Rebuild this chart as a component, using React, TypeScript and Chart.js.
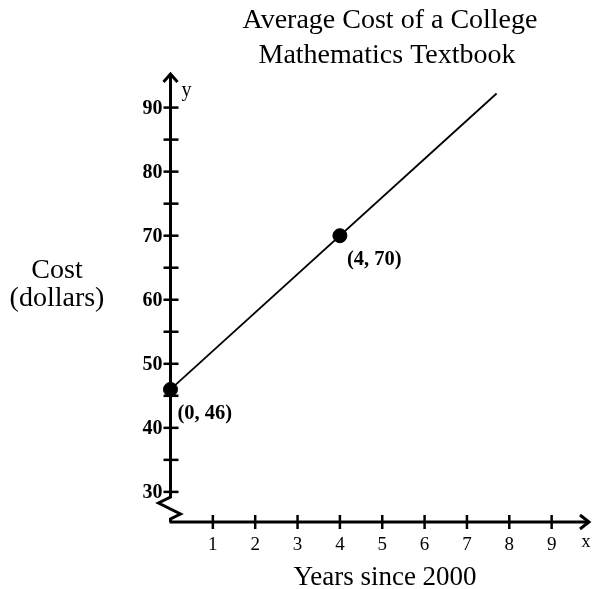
import React, { useEffect, useRef } from "react";
import { Chart, registerables } from "chart.js";

Chart.register(...registerables);

const titleLines = ["Average Cost of a College", "Mathematics Textbook"];
const xAxisTitle = "Years since 2000";
const yAxisTitle = ["Cost", "(dollars)"];
const xTicks = [1, 2, 3, 4, 5, 6, 7, 8, 9];
const yTicks = [30, 35, 40, 45, 50, 55, 60, 65, 70, 75, 80, 85, 90];
const yLabelled = [30, 40, 50, 60, 70, 80, 90];
const lineX = [0, 7.7];
const lineY = [46, 92.2];
const pointX = [0, 4];
const pointY = [46, 70];
const pointLabels = ["(0, 46)", "(4, 70)"];

const SERIF = "'Liberation Serif', 'Times New Roman', serif";

const axesPlugin = {
  id: "mathAxes",
  beforeDatasetsDraw(chart: any) {
    const { ctx, chartArea, scales } = chart;
    const xs = scales.x;
    const ys = scales.y;
    const x0 = xs.getPixelForValue(0);
    const yBottom = chartArea.bottom;
    const yTop = chartArea.top;
    const xRight = chartArea.right - 3;
    ctx.save();
    ctx.strokeStyle = "#000";
    ctx.lineWidth = 3;
    ctx.lineCap = "butt";
    ctx.lineJoin = "miter";
    // y axis with break
    const breakTop = ys.getPixelForValue(29.2);
    ctx.beginPath();
    ctx.moveTo(x0, yTop + 1);
    ctx.lineTo(x0, breakTop);
    ctx.lineTo(x0 - 12, breakTop + 6);
    ctx.lineTo(x0 + 10, breakTop + 17);
    ctx.lineTo(x0, breakTop + 22);
    ctx.lineTo(x0, yBottom);
    ctx.stroke();
    // x axis
    ctx.beginPath();
    ctx.moveTo(x0 - 1, yBottom);
    ctx.lineTo(xRight, yBottom);
    ctx.stroke();
    // arrows
    ctx.beginPath();
    ctx.moveTo(x0 - 7, yTop + 9);
    ctx.lineTo(x0, yTop + 1);
    ctx.lineTo(x0 + 7, yTop + 9);
    ctx.stroke();
    ctx.beginPath();
    ctx.moveTo(xRight - 9, yBottom - 7);
    ctx.lineTo(xRight, yBottom);
    ctx.lineTo(xRight - 9, yBottom + 7);
    ctx.stroke();
    // y ticks
    ctx.lineWidth = 2.5;
    yTicks.forEach((v) => {
      const py = ys.getPixelForValue(v);
      ctx.beginPath();
      ctx.moveTo(x0 - 7, py);
      ctx.lineTo(x0 + 8, py);
      ctx.stroke();
    });
    // x ticks
    xTicks.forEach((v) => {
      const px = xs.getPixelForValue(v);
      ctx.beginPath();
      ctx.moveTo(px, yBottom - 7);
      ctx.lineTo(px, yBottom + 7);
      ctx.stroke();
    });
    // labels
    ctx.fillStyle = "#000";
    ctx.font = `bold 20px ${SERIF}`;
    ctx.textAlign = "right";
    ctx.textBaseline = "middle";
    yLabelled.forEach((v) => {
      ctx.fillText(String(v), x0 - 8, ys.getPixelForValue(v) + 1);
    });
    ctx.font = `19px ${SERIF}`;
    ctx.textAlign = "center";
    xTicks.forEach((v) => {
      ctx.fillText(String(v), xs.getPixelForValue(v), yBottom + 23);
    });
    // axis letters
    ctx.font = `20px ${SERIF}`;
    ctx.textAlign = "center";
    ctx.fillText("y", x0 + 16, yTop + 18);
    ctx.font = `18px ${SERIF}`;
    ctx.fillText("x", xRight - 3, yBottom + 20);
    // titles
    ctx.font = `28px ${SERIF}`;
    ctx.textBaseline = "alphabetic";
    ctx.fillText(titleLines[0], 390, 28);
    ctx.fillText(titleLines[1], 387, 63);
    ctx.font = `27px ${SERIF}`;
    ctx.fillText(xAxisTitle, 385, 585);
    ctx.font = `28px ${SERIF}`;
    ctx.fillText(yAxisTitle[0], 57, 278);
    ctx.fillText(yAxisTitle[1], 57, 306);
    // point labels
    ctx.font = `bold 20.5px ${SERIF}`;
    ctx.textAlign = "left";
    ctx.textBaseline = "middle";
    pointLabels.forEach((t, i) => {
      ctx.fillText(t, xs.getPixelForValue(pointX[i]) + 7, ys.getPixelForValue(pointY[i]) + 24);
    });
    ctx.restore();
  },
};

export default function App() {
  const ref = useRef<HTMLCanvasElement | null>(null);
  useEffect(() => {
    if (!ref.current) return;
    const chart = new Chart(ref.current, {
      type: "scatter",
      data: {
        datasets: [
          {
            data: lineX.map((x, i) => ({ x, y: lineY[i] })),
            showLine: true,
            borderColor: "#000",
            borderWidth: 1.8,
            pointRadius: 0,
            clip: false,
          },
          {
            data: pointX.map((x, i) => ({ x, y: pointY[i] })),
            pointRadius: 7,
            pointBackgroundColor: "#000",
            pointBorderColor: "#000",
            showLine: false,
            clip: false,
          },
        ],
      },
      options: {
        animation: false,
        responsive: false,
        devicePixelRatio: 1,
        layout: { autoPadding: false, padding: { left: 170.5, right: 0, top: 73, bottom: 67 } },
        plugins: { legend: { display: false }, tooltip: { enabled: false }, title: { display: false } },
        scales: {
          x: { type: "linear", min: 0, max: 9.953, display: false },
          y: { type: "linear", min: 25.3, max: 95.4, display: false },
        },
      },
      plugins: [axesPlugin],
    });
    return () => chart.destroy();
  }, []);
  return (
    <div style={{ position: "fixed", left: 0, top: 0, width: 592, height: 589, background: "#fff" }}>
      <canvas ref={ref} width={592} height={589} style={{ display: "block" }} />
    </div>
  );
}
